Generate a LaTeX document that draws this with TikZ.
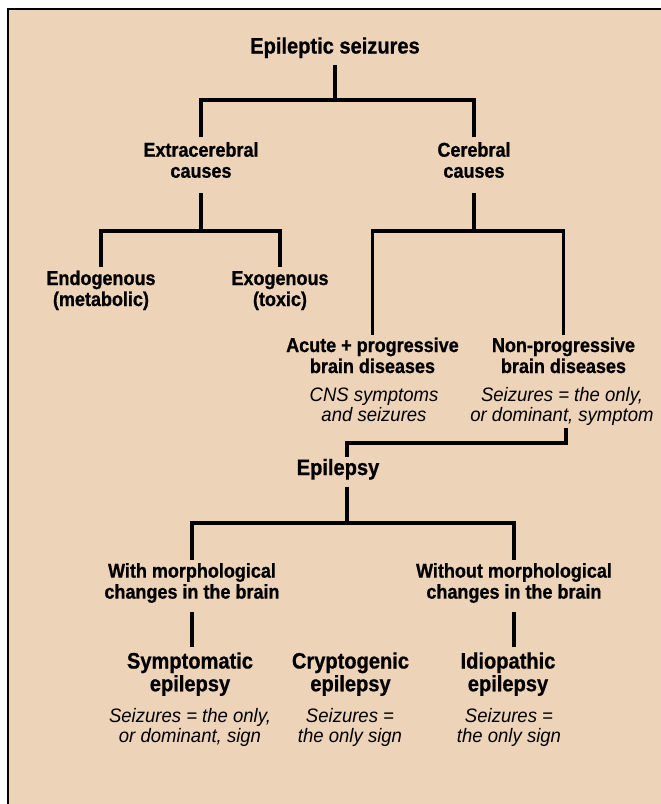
\documentclass[tikz,border=0pt]{standalone}
\usepackage{fontspec}
\newfontfamily\condfont{Liberation Sans}[FakeStretch=0.9, BoldFeatures={FakeBold=0.8}]
\newfontfamily\itfont{Liberation Sans}[FakeStretch=0.95]
\newcommand\mlines[1]{\begin{tabular}[t]{@{}c@{}}#1\end{tabular}}
\definecolor{bgpeach}{RGB}{237,211,184}
\begin{document}
\begin{tikzpicture}[x=1pt,y=-1pt,
  lab/.style={anchor=base, inner sep=0pt, outer sep=0pt, text=black},
  bsmall/.style={lab, font=\condfont\bfseries\fontsize{20}{21}\selectfont},
  bbig/.style={lab, font=\condfont\bfseries\fontsize{22.3}{22}\selectfont},
  ital/.style={lab, font=\itfont\itshape\fontsize{19.5}{20}\selectfont},
  conn/.style={draw=black, line width=3.2pt, line join=miter, line cap=butt}]
\fill[white] (0,0) rectangle (661,804);
\useasboundingbox (0,0) rectangle (661,804);
\fill[bgpeach] (8,9) rectangle (661,804);
\draw[line width=1.3pt] (8,804) -- (8,9) -- (661,9);

% nodes
\node[bbig] (title) at (335,53.5) {\mlines{Epileptic seizures}};
\node[bsmall] (extra) at (201,156.7) {\mlines{Extracerebral\\causes}};
\node[bsmall] (cereb) at (474,156.7) {\mlines{Cerebral\\causes}};
\node[bsmall] (endo) at (101,285) {\mlines{Endogenous\\(metabolic)}};
\node[bsmall] (exo) at (280,285) {\mlines{Exogenous\\(toxic)}};
\node[bsmall] (acute) at (372.5,352) {\mlines{Acute + progressive\\brain diseases}};
\node[ital] (acutesub) at (374,401) {\mlines{CNS symptoms\\and seizures}};
\node[bsmall] (nonprog) at (563.5,352) {\mlines{Non-progressive\\brain diseases}};
\node[ital] (nonprogsub) at (562,401) {\mlines{Seizures = the only,\\or dominant, symptom}};
\node[bbig] (epi) at (338,475) {\mlines{Epilepsy}};
\node[bsmall] (with) at (192,577.6) {\mlines{With morphological\\changes in the brain}};
\node[bsmall] (without) at (514,577.6) {\mlines{Without morphological\\changes in the brain}};
\node[bbig] (sympt) at (190,668.5) {\mlines{Symptomatic\\epilepsy}};
\node[bbig] (crypt) at (350.5,668.5) {\mlines{Cryptogenic\\epilepsy}};
\node[bbig] (idio) at (508,668.5) {\mlines{Idiopathic\\epilepsy}};
\node[ital] (s1) at (190,722) {\mlines{Seizures = the only,\\or dominant, sign}};
\node[ital] (s2) at (350,722) {\mlines{Seizures =\\the only sign}};
\node[ital] (s3) at (509,722) {\mlines{Seizures =\\the only sign}};

% junction coordinates
\coordinate (bar1) at (335,100);
\coordinate (bar2) at (199,231);
\coordinate (bar3) at (472,231);
\coordinate (bar4) at (450,443);
\coordinate (bar5) at (347,523);

% connectors
\draw[conn] ([yshift=-5pt]title.south) -- (title.south |- bar1);
\draw[conn] ([yshift=5pt]extra.north) |- (bar1) -| ([yshift=5pt]cereb.north);

\draw[conn] ([yshift=-9pt]extra.south) -- (extra.south |- bar2);
\draw[conn] ([yshift=3pt]endo.north) |- (bar2) -| ([yshift=3pt]exo.north);

\draw[conn] ([yshift=-9pt]cereb.south) -- (cereb.south |- bar3);
\draw[conn] ([yshift=2.5pt]acute.north) |- (bar3) -| ([yshift=2.5pt]nonprog.north);

\draw[conn] ([xshift=4pt,yshift=-1pt]nonprogsub.south) |- (bar4) -| ([xshift=9pt,yshift=2pt]epi.north);

\draw[conn] ([xshift=9pt,yshift=-5pt]epi.south) -- (bar5);
\draw[conn] ([yshift=2.5pt]with.north) |- (bar5) -| ([yshift=2.5pt]without.north);

\draw[conn, shorten >=5.5pt] ([yshift=-7pt]with.south) -- (with.south |- sympt.north);
\draw[conn, shorten >=5.5pt] ([yshift=-7pt]without.south) -- (without.south |- idio.north);
\end{tikzpicture}
\end{document}
